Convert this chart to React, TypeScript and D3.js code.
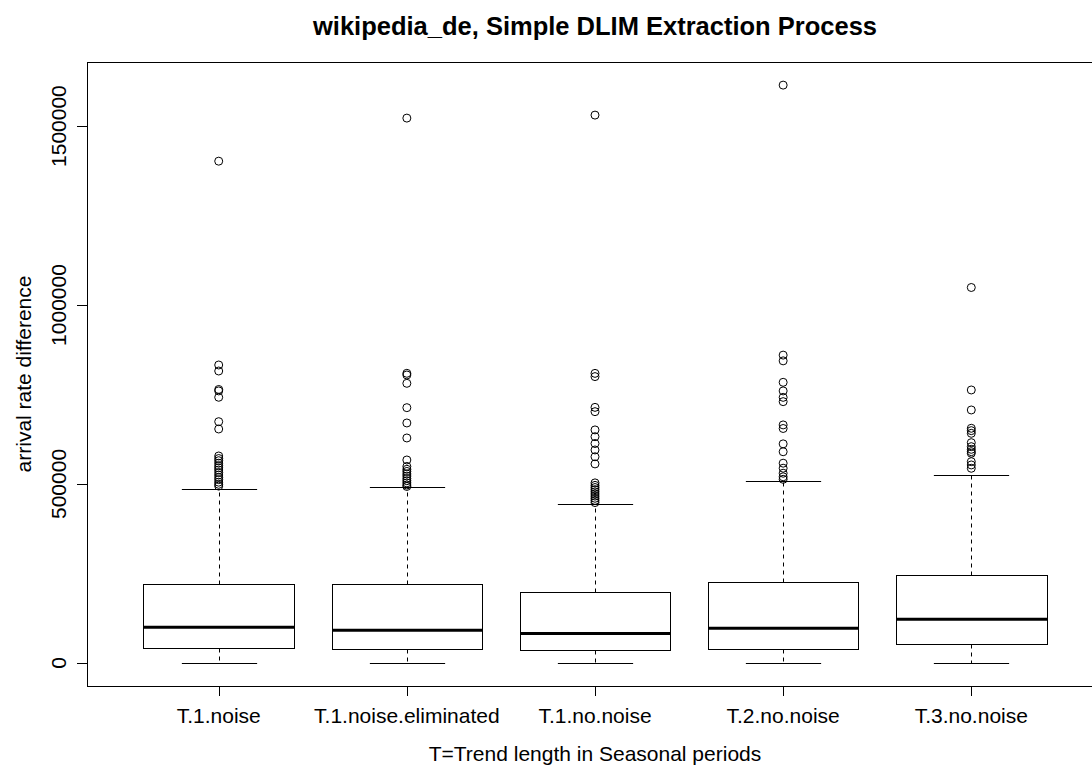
import React from "react";
import * as d3 from "d3";

const categories = ["T.1.noise", "T.1.noise.eliminated", "T.1.no.noise", "T.2.no.noise", "T.3.no.noise"];
const lowerWhisker = [0, 0, 0, 0, 0];
const q1 = [42700, 39100, 36300, 39100, 52100];
const median = [99700, 91300, 81800, 96900, 122000];
const q3 = [220700, 220700, 199000, 225000, 245800];
const upperWhisker = [486000, 490800, 445000, 507500, 525000];

const outliers1 = [1402000, 832400, 815600, 764000, 760000, 742200, 674000, 653600, 578200, 571000, 565000, 558000, 551000, 545000, 539000, 532000, 525000, 518000, 512000, 505000, 499000, 494000];
const outliers2 = [1522300, 809200, 804500, 781200, 713200, 670400, 628500, 567000, 549000, 541000, 535000, 528000, 522000, 515000, 509000, 503000, 497000, 493000];
const outliers3 = [1530700, 809000, 800000, 714000, 702000, 651000, 632000, 613000, 595000, 576000, 556000, 503000, 496000, 490000, 484000, 478000, 472000, 466000, 460000, 454000, 448000];
const outliers4 = [1614500, 860000, 844000, 784000, 760000, 742000, 730000, 665000, 655000, 612000, 590000, 558000, 544000, 530000, 520000, 513000];
const outliers5 = [1049000, 762600, 706700, 655600, 648900, 641500, 615400, 604200, 596800, 590200, 585700, 562300, 553100, 543800];
const outliers = [outliers1, outliers2, outliers3, outliers4, outliers5];

const yTicks = [0, 500000, 1000000, 1500000];
const title = "wikipedia_de, Simple DLIM Extraction Process";
const xTitle = "T=Trend length in Seasonal periods";
const yTitle = "arrival rate difference";

const W = 1092;
const H = 768;
const L = 87;
const R = 1103;
const T = 62;
const B = 686;
const FONT = "'Liberation Sans', Arial, Helvetica, sans-serif";
const FS = 21;

export default function App() {
  const all = [...lowerWhisker, ...upperWhisker, ...outliers.flat()];
  const lo = d3.min(all) as number;
  const hi = d3.max(all) as number;
  const pad = (hi - lo) * 0.04;
  const y = d3.scaleLinear().domain([lo - pad, hi + pad]).range([B, T]);
  const n = categories.length;
  const x = d3.scaleLinear().domain([0.5 - n * 0.04, n + 0.5 + n * 0.04]).range([L, R]);
  const unit = x(2) - x(1);
  const boxHalf = unit * 0.4;
  const capHalf = unit * 0.2;

  return (
    <svg width={W} height={H} style={{ position: "absolute", left: 0, top: 0, background: "#fff" }} fontFamily={FONT}>
      <rect x={0} y={0} width={W} height={H} fill="#fff" />
      <text x={(L + R) / 2} y={35} textAnchor="middle" fontWeight="bold" fontSize={25.5}>{title}</text>
      {categories.map((c, i) => {
        const cx = Math.round(x(i + 1)) + 0.5;
        const x0 = Math.round(x(i + 1) - boxHalf) + 0.5;
        const x1 = Math.round(x(i + 1) + boxHalf) + 0.5;
        const yq1 = Math.round(y(q1[i])) + 0.5;
        const yq3 = Math.round(y(q3[i])) + 0.5;
        const ylo = Math.round(y(lowerWhisker[i])) + 0.5;
        const yhi = Math.round(y(upperWhisker[i])) + 0.5;
        return (
          <g key={c}>
            <line x1={cx} x2={cx} y1={yq3} y2={yhi} stroke="#000" strokeDasharray="4,4" />
            <line x1={cx} x2={cx} y1={yq1} y2={ylo} stroke="#000" strokeDasharray="4,4" />
            <line x1={cx - capHalf} x2={cx + capHalf} y1={yhi} y2={yhi} stroke="#000" />
            <line x1={cx - capHalf} x2={cx + capHalf} y1={ylo} y2={ylo} stroke="#000" />
            <rect x={x0} y={yq3} width={x1 - x0} height={yq1 - yq3} fill="#fff" stroke="#000" />
            <line x1={x0} x2={x1} y1={y(median[i])} y2={y(median[i])} stroke="#000" strokeWidth={3} />
            {outliers[i].map((v, j) => (
              <circle key={j} cx={x(i + 1)} cy={y(v)} r={4} fill="none" stroke="#000" strokeWidth={1} />
            ))}
            <line x1={cx} x2={cx} y1={B} y2={B + 10} stroke="#000" />
            <text x={x(i + 1)} y={723} textAnchor="middle" fontSize={FS}>{c}</text>
          </g>
        );
      })}
      {yTicks.map((t) => (
        <g key={t}>
          <line x1={L - 10} x2={L} y1={Math.round(y(t)) + 0.5} y2={Math.round(y(t)) + 0.5} stroke="#000" />
          <text transform={`translate(66,${y(t)}) rotate(-90)`} textAnchor="middle" fontSize={FS}>{String(t)}</text>
        </g>
      ))}
      <rect x={L + 0.5} y={T + 0.5} width={R - L} height={B - T} fill="none" stroke="#000" />
      <text x={(L + R) / 2} y={761} textAnchor="middle" fontSize={FS}>{xTitle}</text>
      <text transform={`translate(31,${(T + B) / 2}) rotate(-90)`} textAnchor="middle" fontSize={FS}>{yTitle}</text>
    </svg>
  );
}
